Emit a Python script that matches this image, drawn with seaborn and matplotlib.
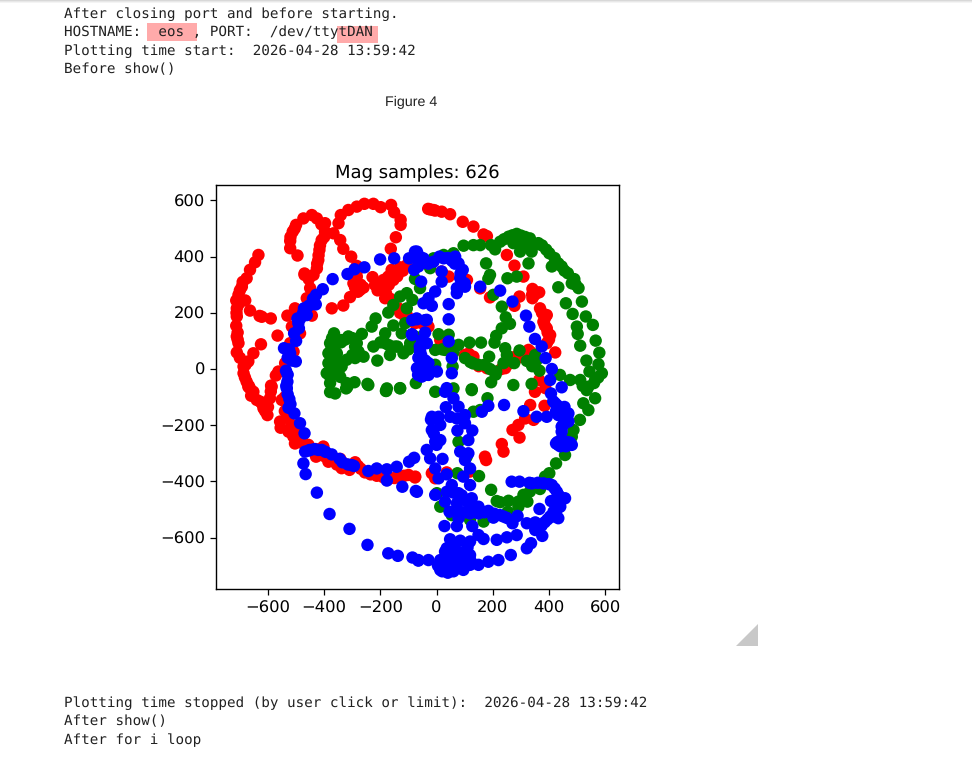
import pandas as pd
import numpy as np
import matplotlib.pyplot as plt
from matplotlib.patches import Rectangle, Polygon
import seaborn as sns

sns.set_style("ticks")
plt.rcParams['font.family'] = ['DejaVu Sans']
plt.rcParams['text.hinting'] = 'no_hinting'

# magnetometer samples
red_x = [-634, -646, -664, -676, -693, -705, -713, -681, -711, -711, -713, -711, -705, -711, -652, -670, -687, -687, -676, -664,
         -664, -630, -622, -590, -566, -625, -495, -521, -521, -512, -500, -474, -444, -426, -397, -397, -409, -417, -421, -426,
         -438, -470, -450, -462, -504, -531, -444, -515, -486, -521, -509, -539, -563, -572, -589,
         -367, -349, -341, -314, -284, -257, -225, -199, -162, -151, -128, -128, -145, -163, -332, -343, -304, -284, -284, -296,
         -272, -308, -332, -373, -228, -219, -189, -195, -183, -160, -130, -106, -154, -172, -136, -106, -77,
         -23, -5, 18, 48, 93, 131, 167, 179, 250, 277, 309, 155, 190, 295, 277, 341, 365, 341, 368, 392, 380, 392, 404, 392,
         422, 327, 280, 244, 179, 114, 131, 43, 18, 108, 13, 365, 387, -52, -29,
         -670, -652, -628, -616, -602, -593, -587, -557, -555, -551, -527, -527, -504, -492, -456, -403, -429, -385, -343, -338,
         -310, -290, -255, -213, -166, -130, -100, -77,
         350, 333, 384, 315, 291, 270, 295, 232, 238, 172, 176, 345, -17, 36, 119, -76, -5,
         -700, -690, -705, -712, -708, -708, -700, -680, -682, -668, -660, -640, -620, -610, -600, -590, -540, -540, -515, -510,
         -480, -470, -430, -410, -400, -370, -355, -320, -280, -270, -235, -190, -150, -115,
         -505, -520, -410, -400, -415, -420, -425, -470, -455, -200, -170, -150, -140, -120, -210, -180, -165, -285, -270, -290,
         -260, -280, -130, -110, -30, -12, 340, 350, 375, 385, 385, 395, 400, 335, 305, 290, 260, 230, 150, 130, 100]
red_y = [406, 380, 353, 323, 293, 264, 244, 244, 216, 187, 154, 116, 92, 59, 56, 27, 9, -15, -45, -69,
         208, 189, 186, 180, 119, 88, 404, 430, 456, 489, 513, 536, 548, 536, 519, 489, 459, 424, 388, 358,
         335, 335, 288, 252, 216, 190, 190, 151, 127, 92, 62, 21, -9, -23, -59,
         483, 519, 548, 566, 578, 588, 588, 576, 584, 558, 531, 513, 469, 428, 428, 459, 400, 367, 329, 305,
         282, 256, 226, 216, 327, 299, 317, 282, 252, 353, 362, 370, 317, 329, 216, 192, 163,
         568, 564, 560, 551, 524, 507, 479, 473, 406, 368, 329, 287, 255, 258, 225, 285, 273, 252, 216, 192, 168, 145, 121, 92,
         59, 68, 44, 3, 3, 55, 44, 329, 347, 317, 103, -39, -68, 163, 151,
         -63, -81, -116, -140, -164, -104, -63, -187, -209, -110, -176, -223, -265, -223, -270, -276, -312, -330, -320, -353,
         -359, -332, -368, -380, -389, -383, -377, -386,
         -81, -128, -131, -176, -199, -217, -244, -267, -294, -312, -324, -181, -371, -368, -365, -383, -389,
         280, 310, 230, 200, 130, 105, 40, 15, -30, -60, -95, -110, -125, -150, -135, -80, -100, -150, -200, -240,
         -250, -270, -285, -295, -310, -325, -340, -340, -345, -355, -375, -385, -388, -380,
         500, 470, 515, 470, 440, 405, 375, 340, 320, 300, 300, 340, 330, 350, 280, 270, 250, 345, 300, 290,
         290, 275, 200, 180, 570, 566, 265, 265, 200, 180, 155, 130, 105, 60, 55, 40, 20, 0, 10, 30, 50]

green_x = [96, 131, 155, 194, 208, 226, 256, 285, 273, 297, 332, 362, 338, 327, 285, 252, 176, 190, 184, 401, 410, 433, 467,
           481, 505, 433, 517, 460, 484, 531, 556, 499, 502, 566, 511, 579, 533, 576, 588, 544, 511, 475, 439, 564, 540,
           273, 194, 338, 366, 125, 212, 232, 202, 246, 261, 232, 212, 206, 158, 117, 78, 43, 7, -5, 30, 101, 149, 187,
           244, 250, 238, 276, 295, 321, 351, 339, 57, -5, -59, -11, 25, -23, 60,
           534, 564, 522, 540, 510, 487, 481, 457, 425, 401, 386, 78, 107, 74, 151, 194, 214, 226, 256, 291, 291, 323, 309,
           332, 368, 253, 1, 13, 54, 119, 167, 131, 155, 181, 125, 60, -5,
           -365, -379, -385, -385, -391, -379, -361, -338, -314, -338, -284, -266, -278, -260, -290, -320, -355, -361, -320,
           -292, -243, -177, -130, -74, -211, -225, -231, -217, -183, -183, -154, -166, -148, -118, -112, -124, -94, -77,
           -172, -154, -130, -106, -86, -106, -77, -361, -322, -180, -379, -379, -343, -318, -246, -180, -130,
           240, 270, 300, 315, 285, 300, 320, 345, 375, 390, 420, 445, 455, 490, 495,
           -372, -375, -372, -370, -355, -345, -325, -300, -290, -300, -340, -350, -380,
           -200, -170, -140, -100, -75, -55, 20, 60, 120, 130, 170, 190, 210, 340, 355, 520, 560, 575]
green_y = [439, 441, 441, 441, 426, 453, 471, 481, 448, 418, 465, 448, 418, 376, 329, 323, 376, 335, 321, 412, 365, 376, 341,
           305, 288, 291, 240, 234, 196, 187, 157, 151, 125, 101, 83, 58, 30, 17, -15, -9, -39, -39, -21, -39, -63,
           -57, -47, -53, -6, -72, -9, 222, 264, 184, 161, 145, 118, 94, 94, 94, 86, 122, 124, 68, 68, 39, 15, 44,
           74, 50, 21, 21, 66, 29, 50, 21, 9, 15, 288, 394, 406, 359, 412,
           -75, -104, -122, -146, -181, -217, -241, -306, -336, -371, -383, -259, -312, -371, -381, -430, -470, -474, -469,
           -472, -490, -472, -448, -436, -427, -508, -442, -490, -520, -537, -543, -152, -146, -104, -75, -69, -81,
           127, 92, 56, 21, -15, -50, 15, 9, 116, 103, 92, 125, 62, 44, 39, 33, 56, 86, -50,
           -47, -57, -69, -69, -50, 30, 80, 151, 180, 127, 92, 155, 50, 80, 56, 163, 127, 92, 116,
           201, 228, 258, 270, 246, 216, 321, -87, -69, -78, -3, -82, -28, -64, -53, -78, -68,
           462, 476, 475, 470, 455, 445, 445, 440, 440, 425, 395, 365, 350, 320, 300,
           110, 70, 40, 0, 30, 10, 105, 110, 80, 50, 95, -10, -25,
           95, 85, 80, 70, 85, 95, 70, 60, 25, 20, 15, 0, -20, 10, 30, -60, -50, -30]

blue_x = [-70, -47, -65, -11, 25, 66, 18, 78, 93, 18, 84, 101, 72, 72, -5, -55, -29, -47, -17, 43, 43, -35, -70, -41, -35, 43,
          54, 54, 155, 226, 270, 318, 330, 350, 374, 388, 410, 404, 445, -59, -53, -70, -53, -29, -29, 1, 36,
          -201, -151, -98, -77, -80, -257, -292, -317, -370, -405, -429, -438, -472, -462, -495, -492, -507, -543, -521, -501,
          -536, -531, -533, -88, -71,
          -524, -527, -506, -486, -470, -468, -421, -450, -409, -474, -466, -426, -381, -310, -246, -172, -138, -86, -65,
          -373, -335, -302, -294, -243, -213, -177, -177, -142, -122, -98, -80, -74,
          30, 60, 33, 78, 184, 161, 240, 309, 407, 356, 392, 422, 445, 469, 433, 469, 445, 445, 433, 457, 481,
          -17, 7, 13, -17, -5, 13, -35, -23, -5, 21, 48, 72, 101, 101, 74, 127, 113, 84, 113, 101, 119, 95, 119, 36, 7, 54,
          36, -5, 30, 72, 78, 125, 149, 119, 149, 46, 84, 78, 28, 72, 127, 184, 202, 238, 270, 288, 321, 351, 351, 374, 376,
          404, 433, 416, 439, 457, 407, 428, 410, 380, 339, 295, 267, 366, 321, 336, 264, 285, 250, 214, 220, 184, 149, 167,
          149, 119, 84, 48, 36, 119, 84, 43, 13, -65, -29, 13, 43, 72, 95, 119, 54, 84, -70,
          -59, -41, -66, -23, -52, -41, -87, -87,
          -440, -430, -455, -475, -485, -490, -500, -525, -530, -515, -530, -535, -530, -520,
          -455, -435, -395, -345, -315,
          415, 430, 455, 440, 455, 425, 465, 450, 430, 440, 440, 465, 450, 475, 425, 460, 445,
          330, 360, 400, 420, 435, 440, 425, 415, 395, 385, 365, 250, 225, 205, 170, 130, 100, 105, 90, 60,
          20, 35, 50, 65, 85, 100, 60, 30, 60, 75, 105, 110, 20, 40, 60, 100, 120, 5,
          -45, -30, -60, -70, 10, 40, 55, 65, 85, 90, 100, -60, -55, -40, -30, -50, -65, -35, -60,
          -20, -10, 0]
blue_y = [418, 394, 365, 382, 394, 400, 347, 376, 353, 311, 323, 293, 288, 270, 276, 311, 252, 234, 225, 231, 177, 175, 177, 130, 92, 98,
          39, -15, 293, 279, 240, 190, 151, 107, 80, 39, 0, -39, -65, 62, 27, 3, -27, -21, 21, -9, -68,
          390, 394, 394, 418, 353, 362, 355, 338, 320, 284, 264, 240, 216, 192, 180, 163, 127, 74, 56, 27,
          -6, -45, -69, 124, 180,
          -107, -138, -158, -193, -229, -294, -288, -288, -288, -336, -374, -440, -516, -569, -626, -656, -665, -671, -682,
          -304, -332, -342, -345, -363, -354, -357, -397, -348, -419, -330, -316, -434,
          -81, -104, -136, -134, -131, -152, -128, -150, -87, -170, -170, -122, -146, -158, -164, -187, -205, -223, -270, -265, -270,
          -170, -170, -199, -217, -259, -253, -288, -318, -354, -320, -170, -176, -164, -193, -219, -219, -253, -294, -300, -324, -354, -383, -413, -375, -389, -413,
          -437, -448, -472, -478, -442, -460, -490, -514, -514, -508, -508, -531, -559, -559, -559, -505, -529, -525, -549, -523, -549, -546, -573, -557, -594,
          -525, -531, -508, -478, -460, -470, -437, -413, -407, -407, -401, -401, -498, -638, -620, -662, -591, -599, -608, -680, -686, -697, -605,
          -591, -614, -611, -606, -638, -662, -662, -662, -680, -680, -680, -715, -715, -709, -715, -697, -686, -686, -437,
          68, 14, -21, -11, 103, 174, 174, 121,
          250, 230, 225, 200, 180, 145, 100, 70, 40, 30, -20, -60, -90, -125,
          -290, -285, -295, -320, -340,
          -115, -130, -135, -165, -180, -150, -175, -200, -260, -255, -275, -260, -270, -262, -265, -275, -250,
          -405, -405, -410, -425, -450, -490, -510, -525, -535, -545, -555, -530, -520, -515, -510, -495, -510, -470, -450, -440,
          -700, -690, -690, -695, -695, -680, -670, -650, -640, -650, -650, -635, -720, -725, -720, -700, -680, -700,
          380, 375, 400, 390, 400, 395, 385, 375, 340, 310, 305, 80, 50, 30, 0, -10, 40, -20, -10,
          -180, -230, -270]

x_ticks = [-600, -400, -200, 0, 200, 400, 600]
y_ticks = [-600, -400, -200, 0, 200, 400, 600]

W, H = 972, 764


def fx(px):
    return px / W


def fy(py):
    return 1 - py / H


df = pd.concat([
    pd.DataFrame({'mx': red_x, 'my': red_y, 'axis': 'xy'}),
    pd.DataFrame({'mx': green_x, 'my': green_y, 'axis': 'yz'}),
    pd.DataFrame({'mx': blue_x, 'my': blue_y, 'axis': 'zx'}),
], ignore_index=True)

fig = plt.figure(figsize=(W / 100, H / 100), dpi=100, facecolor='white')

# faint shadow of the notebook toolbar along the top
for i, c in enumerate(['#d8d8d8', '#e8e8e8', '#f4f4f4']):
    fig.add_artist(Rectangle((0, fy(i + 1)), 1, 1 / H, transform=fig.transFigure, color=c, lw=0))

# highlighted bits of the output text
for x0, y0, x1, y1 in [(147, 23, 197, 41), (337, 26, 378, 43)]:
    fig.add_artist(Rectangle((fx(x0), fy(y1)), fx(x1 - x0), (y1 - y0) / H,
                             transform=fig.transFigure, color='#ffaaaa', lw=0))

top_lines = [
    (14, 'After closing port and before starting.'),
    (32, 'HOSTNAME:  eos , PORT:  /dev/ttytDAN'),
    (51, 'Plotting time start:  2026-04-28 13:59:42'),
    (69, 'Before show()'),
    (703, 'Plotting time stopped (by user click or limit):  2026-04-28 13:59:42'),
    (721, 'After show()'),
    (740, 'After for i loop'),
]
for py, line in top_lines:
    fig.text(fx(64), fy(py), line, family='DejaVu Sans Mono', fontsize=10.22, color='#212121', va='center', ha='left')

fig.text(fx(411), fy(102.5), 'Figure 4', family='Liberation Sans', fontsize=10.3, color='#212121', va='center', ha='center')

# page curl corner
fig.add_artist(Polygon([(fx(736), fy(646)), (fx(758), fy(646)), (fx(758), fy(624))],
                       transform=fig.transFigure, facecolor='#c8c8c8', edgecolor='none'))

ax = fig.add_axes([fx(216), fy(589), fx(619 - 216), (589 - 185) / H])
sns.scatterplot(data=df, x='mx', y='my', hue='axis', palette={'xy': 'red', 'yz': 'green', 'zx': 'blue'},
                s=80, linewidth=0, alpha=1, legend=False, ax=ax)

ax.set_xlim(-785, 649)
ax.set_ylim(-783, 655)
ax.set_xticks(x_ticks)
ax.set_yticks(y_ticks)
ax.set_xlabel('')
ax.set_ylabel('')
ax.set_title('Mag samples: 626', fontsize=13, color='black', pad=5)
ax.tick_params(labelsize=11.8, colors='black', width=0.9, length=4.5)
for s in ax.spines.values():
    s.set_color('black')
    s.set_linewidth(1.0)

fig.savefig('out.png', dpi=100)
